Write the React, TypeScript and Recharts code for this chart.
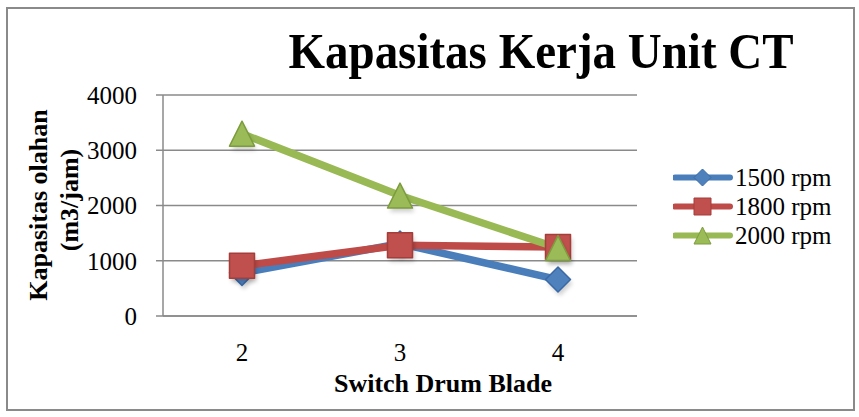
import React from 'react'
import { LineChart, Line, XAxis, YAxis, CartesianGrid, Legend } from 'recharts'

const blades = [2, 3, 4]
const rpm1500 = [780, 1310, 660]
const rpm1800 = [910, 1280, 1250]
const rpm2000 = [3300, 2180, 1230]
const yTicks = [0, 1000, 2000, 3000, 4000]
const xBoundaries = [1.5, 2.5, 3.5, 4.5]
const seriesNames = ['1500 rpm', '1800 rpm', '2000 rpm']

const data = blades.map((b, i) => ({
  blade: b,
  r1500: rpm1500[i],
  r1800: rpm1800[i],
  r2000: rpm2000[i],
}))

const serif = '"Liberation Serif", "Times New Roman", serif'
const gridColor = '#8a8a8a'

const series = [
  { key: 'r1500', name: seriesNames[0], color: '#4a7ebb', fill: '#4f81bd', edge: '#3a6aa6', shape: 'diamond' },
  { key: 'r1800', name: seriesNames[1], color: '#be4b48', fill: '#c0504d', edge: '#a53d3a', shape: 'square' },
  { key: 'r2000', name: seriesNames[2], color: '#98b954', fill: '#9bbb59', edge: '#7d9c3d', shape: 'triangle' },
]

function shapePoints(shape: string, cx: number, cy: number, s: number) {
  const h = s / 2
  if (shape === 'diamond') return `${cx},${cy - h} ${cx + h},${cy} ${cx},${cy + h} ${cx - h},${cy}`
  if (shape === 'triangle') return `${cx},${cy - h} ${cx + h},${cy + h} ${cx - h},${cy + h}`
  return `${cx - h},${cy - h} ${cx + h},${cy - h} ${cx + h},${cy + h} ${cx - h},${cy + h}`
}

function Marker({ cx, cy, shape, fill, edge, size = 25 }: any) {
  if (cx == null || cy == null) return null
  return (
    <g>
      <polygon points={shapePoints(shape, cx + 2, cy + 4, size)} fill="#000" opacity={0.18} filter="url(#mshadow)" />
      <polygon points={shapePoints(shape, cx, cy, size)} fill={fill} stroke={edge} strokeWidth={1.5} strokeLinejoin="round" />
    </g>
  )
}

function LegendBox() {
  return (
    <div style={{ fontFamily: serif, fontSize: 25, lineHeight: '29px', color: '#000' }}>
      {series.map((s) => (
        <div key={s.key} style={{ display: 'flex', alignItems: 'center', height: 29 }}>
          <svg width={62} height={29} style={{ display: 'block' }}>
            <line x1={2} y1={14.5} x2={57} y2={14.5} stroke={s.color} strokeWidth={6} strokeLinecap="round" />
            <polygon points={shapePoints(s.shape, 29.5, 14.5, 17)} fill={s.fill} stroke={s.edge} strokeWidth={1} />
          </svg>
          <span>{s.name}</span>
        </div>
      ))}
    </div>
  )
}

export default function App() {
  return (
    <div style={{ position: 'absolute', left: 0, top: 0, width: 859, height: 417, background: '#fff' }}>
      <LineChart width={859} height={417} data={data} margin={{ top: 95, right: 222, bottom: 20, left: 0 }}>
        <defs>
          <filter id="mshadow" x="-50%" y="-50%" width="200%" height="200%">
            <feGaussianBlur stdDeviation="2" />
          </filter>
        </defs>
        <CartesianGrid vertical={false} stroke={gridColor} strokeWidth={1.5} yAxisId="y" xAxisId="labels" />
        <XAxis
          xAxisId="frame"
          type="number"
          domain={[1.5, 4.5]}
          ticks={xBoundaries}
          tick={false}
          tickSize={7}
          height={1}
          axisLine={{ stroke: gridColor, strokeWidth: 1.5 }}
          tickLine={{ stroke: gridColor, strokeWidth: 1.5 }}
        />
        <XAxis
          xAxisId="labels"
          type="number"
          dataKey="blade"
          domain={[1.5, 4.5]}
          ticks={blades}
          height={80}
          axisLine={false}
          tickLine={false}
          tickSize={0}
          tickMargin={26}
          tick={{ fontSize: 25, fill: '#000', fontFamily: serif }}
        />
        <YAxis
          yAxisId="y"
          width={163}
          domain={[0, 4000]}
          ticks={yTicks}
          tickSize={7}
          tickMargin={19}
          axisLine={{ stroke: gridColor, strokeWidth: 1.5 }}
          tickLine={{ stroke: gridColor, strokeWidth: 1.5 }}
          tick={{ fontSize: 25, fill: '#000', fontFamily: serif }}
        />
        <Legend
          layout="vertical"
          align="center"
          verticalAlign="middle"
          content={() => <LegendBox />}
          wrapperStyle={{ left: 673, top: 163, width: 185, height: 90 }}
        />
        {series.map((s) => (
          <Line
            key={s.key}
            xAxisId="labels"
            yAxisId="y"
            type="linear"
            dataKey={s.key}
            name={s.name}
            stroke={s.color}
            strokeWidth={7.5}
            isAnimationActive={false}
            dot={(p: any) => <Marker key={`${s.key}-${p.index}`} cx={p.cx} cy={p.cy} shape={s.shape} fill={s.fill} edge={s.edge} />}
            activeDot={false}
          />
        ))}
      </LineChart>
      <svg width={859} height={417} style={{ position: 'absolute', left: 0, top: 0, pointerEvents: 'none' }}>
        <rect x={7} y={8} width={847} height={402} fill="none" stroke="#8a8a8a" strokeWidth={2} />
        <text transform="translate(541,68) scale(1,1.1)" textAnchor="middle" fontFamily={serif} fontWeight="bold" fontSize={47} fill="#000">
          Kapasitas Kerja Unit CT
        </text>
        <text x={443} y={392} textAnchor="middle" fontFamily={serif} fontWeight="bold" fontSize={26} fill="#000">
          Switch Drum Blade
        </text>
        <text transform="translate(47,205) rotate(-90)" textAnchor="middle" fontFamily={serif} fontWeight="bold" fontSize={26} fill="#000">
          Kapasitas olahan
        </text>
        <text transform="translate(78,200) rotate(-90)" textAnchor="middle" fontFamily={serif} fontWeight="bold" fontSize={26} fill="#000">
          (m3/jam)
        </text>
      </svg>
    </div>
  )
}
